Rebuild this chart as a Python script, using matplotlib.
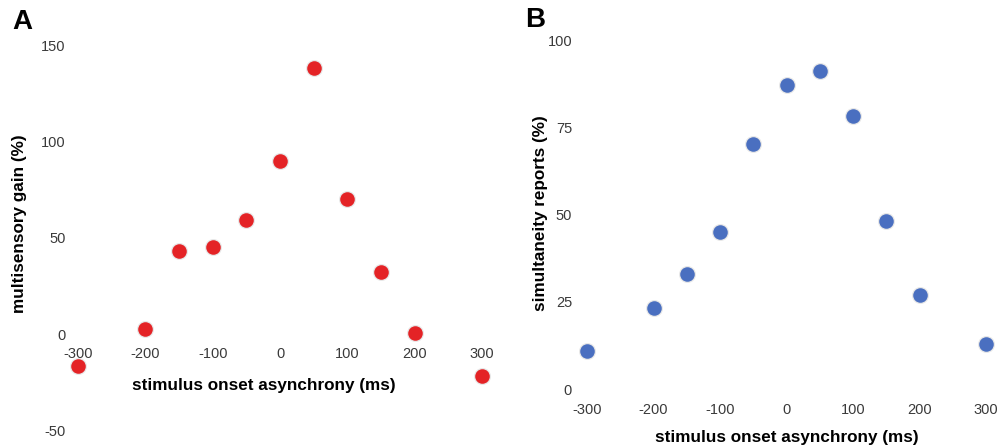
import matplotlib
matplotlib.use("Agg")
import matplotlib.pyplot as plt

# stimulus onset asynchrony (ms)
soa_gain = [-300, -200, -150, -100, -50, 0, 50, 100, 150, 200, 300]
gain_pct = [-16.6, 2.6, 43, 45, 59, 90, 138, 70, 32, 0.5, -22]

soa_simult = [-300, -200, -150, -100, -50, 0, 50, 100, 150, 200, 300]
simult_pct = [10.9, 23.3, 33, 45, 70.4, 87.4, 91.4, 78.4, 48.3, 27, 12.9]

x_ticks = [-300, -200, -100, 0, 100, 200, 300]
gain_ticks = [-50, 0, 50, 100, 150]
simult_ticks = [0, 25, 50, 75, 100]

RED = "#e42326"
BLUE = "#4a6fc0"

W, H = 1002, 448
plt.rcParams["font.family"] = ["Liberation Sans", "DejaVu Sans"]
plt.rcParams["axes.unicode_minus"] = False

fig = plt.figure(figsize=(W / 100, H / 100), dpi=100)


def px_axes(x0, x1, y0, y1):
    # axes rect from pixel corners (top-left origin)
    return fig.add_axes([x0 / W, 1 - y1 / H, (x1 - x0) / W, (y1 - y0) / H])


def style(ax, ypad, xpad):
    for s in ("top", "right", "left"):
        ax.spines[s].set_visible(False)
    ax.spines["bottom"].set_position(("data", 0))
    ax.spines["bottom"].set_visible(False)
    ax.tick_params(axis="both", length=0, labelsize=10.5, labelcolor="#3a3a3a")
    ax.tick_params(axis="y", pad=ypad)
    ax.tick_params(axis="x", pad=xpad)
    ax.set_xticks(x_ticks)
    ax.set_xlim(-310, 320)


def dots(ax, x, y, color):
    # soft shadow under each dot
    ax.scatter(x, y, s=150, color="#bbbbbb", alpha=0.35,
               linewidths=0, clip_on=False, zorder=2)
    ax.scatter(x, y, s=110, color=color, linewidths=0, clip_on=False, zorder=3)


# panel A: multisensory gain
# x: -310 -> 71.3px, 320 -> 495.5px ; y: 155 -> 35.5px, -55 -> 440px
axA = px_axes(71.3, 495.5, 35.5, 440)
style(axA, ypad=4, xpad=9)
axA.set_ylim(-55, 155)
axA.set_yticks(gain_ticks)
dots(axA, soa_gain, gain_pct, RED)
axA.set_xlabel("stimulus onset asynchrony (ms)", fontsize=12.3, fontweight="bold", va="center")
axA.xaxis.set_label_coords(264 / W, 1 - 385 / H, transform=fig.transFigure)
axA.set_ylabel("multisensory gain (%)", fontsize=12.3, fontweight="bold", va="center")
axA.yaxis.set_label_coords(20 / W, 1 - 224 / H, transform=fig.transFigure)

# panel B: simultaneity reports
# x: -310 -> 580.4px, 320 -> 999.3px ; y: 102 -> 34px, 0 -> 389px
axB = px_axes(580.4, 999.3, 34, 389)
style(axB, ypad=6, xpad=10)
axB.set_ylim(0, 102)
axB.set_yticks(simult_ticks)
dots(axB, soa_simult, simult_pct, BLUE)
axB.set_xlabel("stimulus onset asynchrony (ms)", fontsize=12.3, fontweight="bold", va="center")
axB.xaxis.set_label_coords(787 / W, 1 - 437 / H, transform=fig.transFigure)
axB.set_ylabel("simultaneity reports (%)", fontsize=12.3, fontweight="bold", va="center")
axB.yaxis.set_label_coords(540 / W, 1 - 213 / H, transform=fig.transFigure)

fig.text(12 / W, 1 - 22 / H, "A", fontsize=20, fontweight="bold", va="center", ha="left")
fig.text(525 / W, 1 - 20 / H, "B", fontsize=20, fontweight="bold", va="center", ha="left")

fig.savefig("out.png", dpi=100)
